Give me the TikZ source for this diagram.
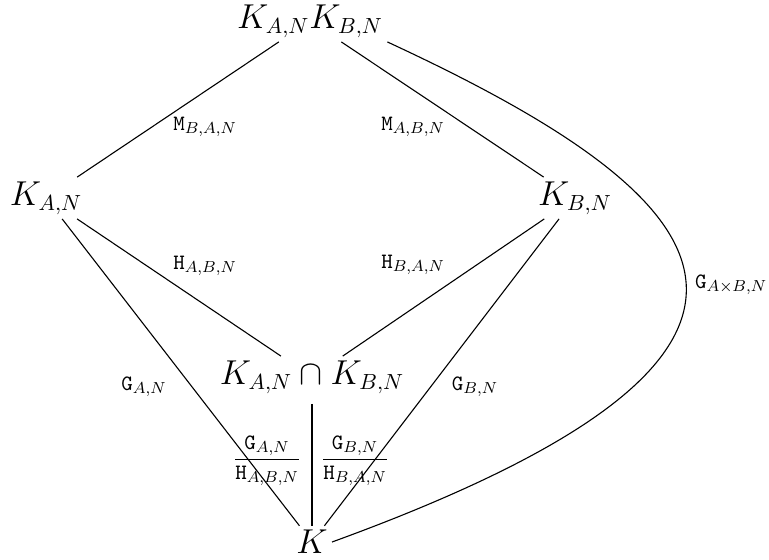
\documentclass[tikz,border=0pt]{standalone}
\usepackage{amsmath,amssymb}
\usepackage{tikz}
\usetikzlibrary{positioning}
\newcommand{\Mmap}[1]{\mathtt{M}_{#1}}
\newcommand{\Hmap}[1]{\mathtt{H}_{#1}}
\newcommand{\Gmap}[1]{\mathtt{G}_{#1}}

\begin{document}
\begin{tikzpicture}[
x=0.5pt, y=-0.5pt,
field/.style={font=\fontsize{16}{19}\selectfont, inner sep=2pt},
lbl/.style={font=\fontsize{11}{13}\selectfont, inner sep=1pt},
link/.style={line width=0.55pt}
]
\useasboundingbox (0,0) rectangle (769,560);
\node[field] (top) at (310,21) {$K_{A,N}K_{B,N}$};
\node[field] (ka) at (46,198) {$K_{A,N}$};
\node[field] (kb) at (575,198) {$K_{B,N}$};
\node[field] (mid) at (312,377) {$K_{A,N}\cap K_{B,N}$};
\node[field] (k) at (312,542) {$K$};

\draw[link] (top) -- (ka);
\draw[link] (top) -- (kb);
\draw[link] (ka) -- (mid);
\draw[link] (kb) -- (mid);
\draw[link] (ka) -- (k);
\draw[link] (kb) -- (k);
\draw[link, shorten <=3pt] (mid) -- (k);
\draw[link] (top.south east) .. controls (720,196) and (868,347) .. (k.east);

\node[lbl] (mba) at (205,127) {$\Mmap{B,A,N}$};
\node[lbl] (mab) at (413,127) {$\Mmap{A,B,N}$};
\node[lbl] (hab) at (205,266) {$\Hmap{A,B,N}$};
\node[lbl] (hba) at (413,265) {$\Hmap{B,A,N}$};
\node[lbl] (ga) at (144,387) {$\Gmap{A,N}$};
\node[lbl] (gb) at (475,387) {$\Gmap{B,N}$};
\node[lbl] (qa) at (267,461) {$\dfrac{\Gmap{A,N}}{\Hmap{A,B,N}}$};
\node[lbl] (qb) at (355,461) {$\dfrac{\Gmap{B,N}}{\Hmap{B,A,N}}$};
\node[lbl] (gab) at (731,285) {$\Gmap{A\times B,N}$};
\end{tikzpicture}
\end{document}
